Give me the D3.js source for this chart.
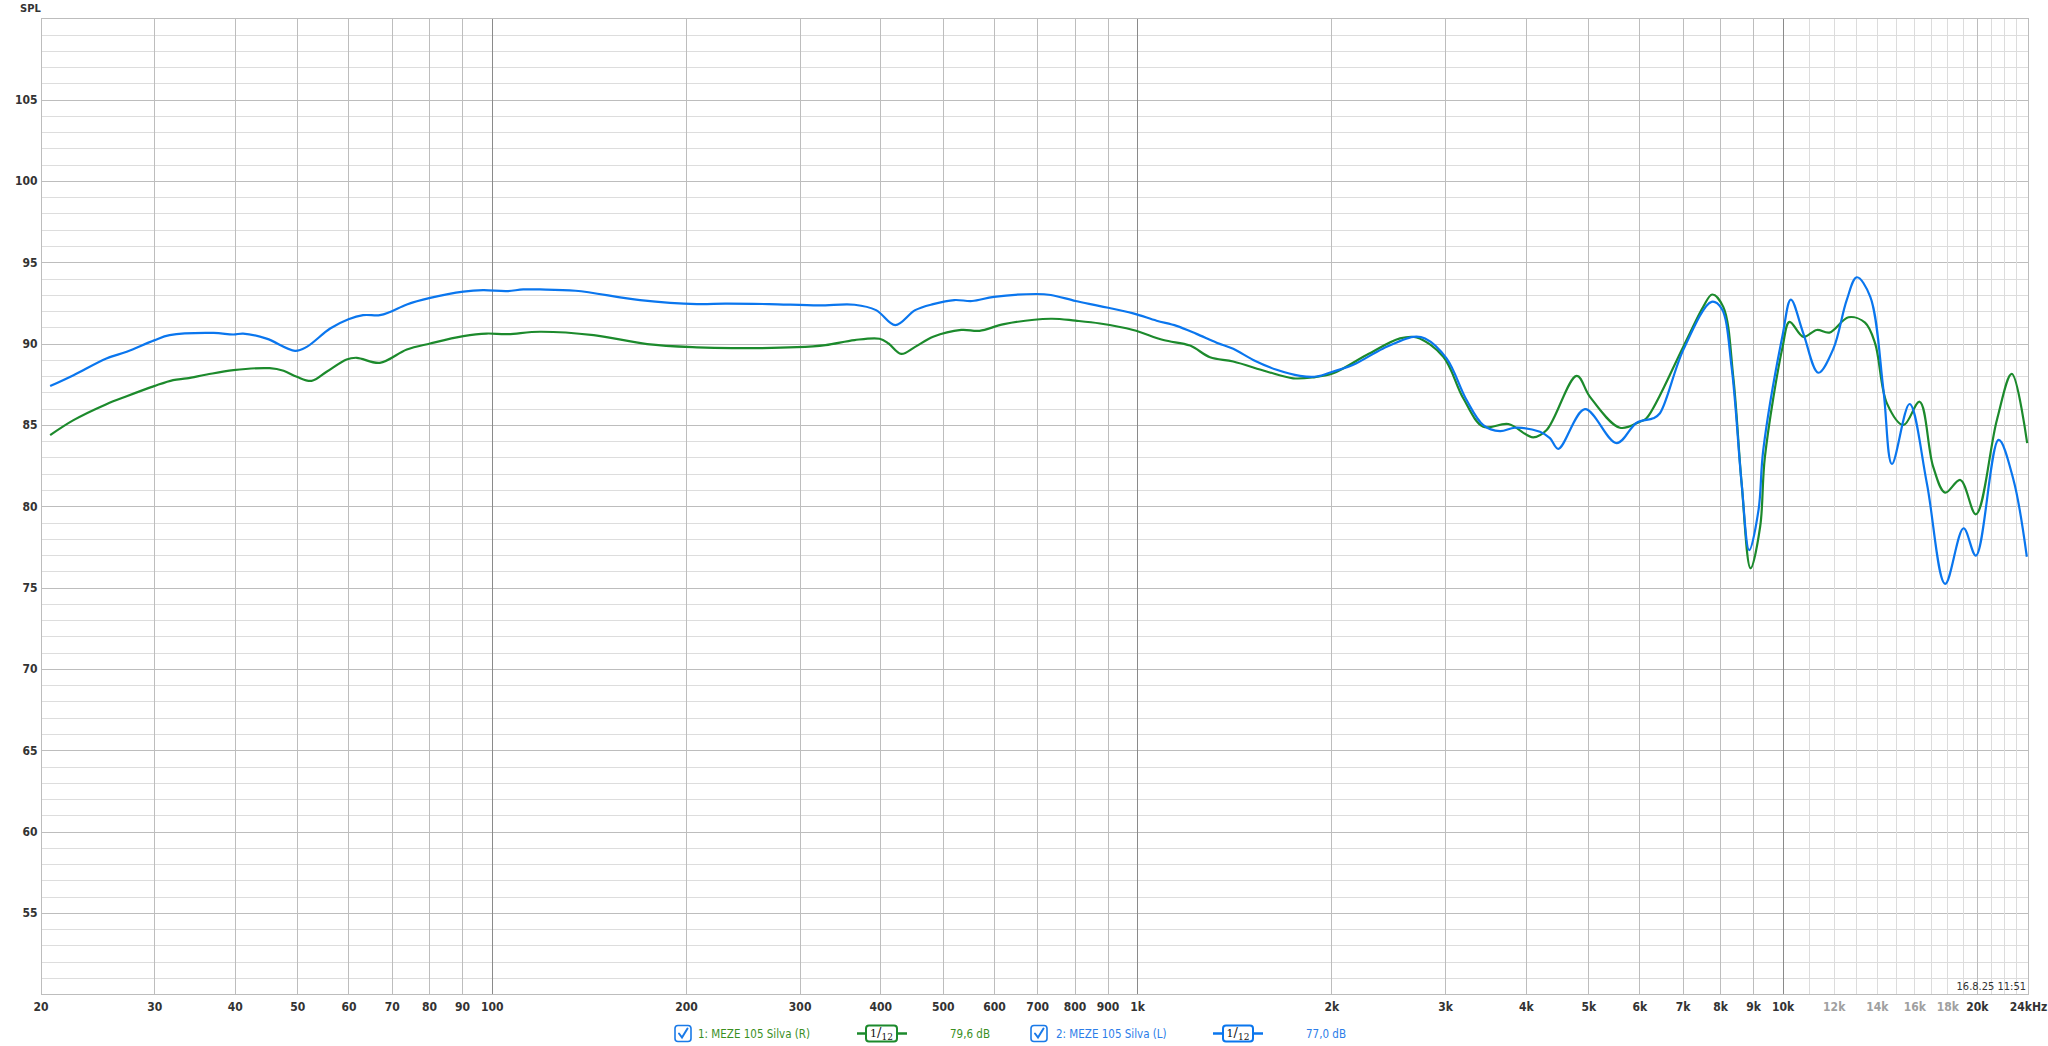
<!DOCTYPE html>
<html>
<head>
<meta charset="utf-8">
<script src="https://cdn.jsdelivr.net/npm/d3@7"></script>
<style>
  html, body { margin: 0; padding: 0; background: #ffffff; }
  svg { display: block; }
</style>
</head>
<body>
<svg id="chart" width="2048" height="1046"></svg>
<script>
// ---------------- DATA ----------------
const seriesNames = ["1: MEZE 105 Silva (R)", "2: MEZE 105 Silva (L)"];
const seriesLevels = ["79,6 dB", "77,0 dB"];
const smoothingLabel = ["1", "12"];

const freqR = [20.7,22.5,25.3,27.2,30.0,32.1,33.7,36.2,39.8,45.3,47.6,49.9,52.6,55.5,59.6,61.8,67.1,73.9,80.3,90.4,98.2,105.5,118.8,143.9,174.2,208,236,297,329,365,399,412,431,453,483,534,570,622,735,803,876,986,1098,1208,1297,1409,1587,1745,1874,2013,2267,2554,2711,2981,3201,3438,3759,4108,4310,4798,5030,5597,6010,6154,7015,7534,7780,8093,8386,8640,8921,9231,9389,10000,10250,10770,11300,11820,12650,13420,13910,14510,15400,16300,17110,17860,18850,19930,21480,22650,23930];
const splR = [84.38,85.3,86.28,86.77,87.39,87.76,87.86,88.1,88.37,88.49,88.33,87.96,87.71,88.27,89.03,89.13,88.82,89.64,90.01,90.46,90.62,90.58,90.73,90.52,89.97,89.77,89.72,89.78,89.91,90.22,90.3,90.01,89.37,89.8,90.42,90.84,90.79,91.2,91.53,91.41,91.24,90.84,90.22,89.88,89.16,88.9,88.29,87.87,87.93,88.18,89.3,90.32,90.38,89.19,86.64,84.89,85.06,84.24,84.69,88.02,86.73,84.83,85.2,85.41,89.8,92.26,93.02,92.26,87.96,81.42,76.19,78.75,83.04,89.8,91.34,90.42,90.84,90.68,91.62,91.29,90.02,86.33,85.0,86.43,82.44,80.84,81.62,79.51,85.31,88.14,83.88];

const freqL = [20.7,22.5,25.3,27.2,30.0,31.7,37.1,39.8,41.2,44.8,49.6,51.7,56.2,60.0,63.2,67.1,69.6,73.9,80.3,90.4,97.0,105.5,111.9,118.8,134.9,169.8,208,230,269,321,365,394,422,453,483,521,555,600,698,735,803,876,986,1072,1151,1236,1328,1409,1513,1645,1788,1897,2013,2162,2406,2677,2793,3016,3239,3438,3649,3850,4208,4361,4493,4941,5532,5942,6303,6456,7015,7763,8044,8336,8640,8878,9178,9333,10000,10300,10770,11360,11990,12570,13030,13670,14330,14770,15730,16730,17860,19070,19930,21610,22790,23900];
const splL = [87.39,88.06,89.09,89.5,90.2,90.52,90.66,90.56,90.62,90.31,89.56,89.8,90.93,91.5,91.75,91.75,91.95,92.41,92.81,93.2,93.29,93.23,93.33,93.33,93.25,92.68,92.43,92.46,92.43,92.35,92.39,92.06,91.14,92.06,92.43,92.68,92.62,92.88,93.05,92.99,92.62,92.31,91.86,91.41,91.09,90.6,90.06,89.68,89.0,88.39,88.02,87.98,88.29,88.7,89.7,90.42,90.32,89.09,86.53,84.99,84.62,84.83,84.58,84.19,83.53,85.97,83.88,85.14,85.41,85.72,89.6,92.57,92.16,88.57,81.42,77.3,79.78,83.45,90.52,92.71,90.62,88.21,89.7,92.68,94.08,92.89,87.15,82.6,86.29,81.42,75.23,78.65,76.97,84.08,81.62,76.9];

const yTickValues = [55,60,65,70,75,80,85,90,95,100,105];
const xTickValues = [20,30,40,50,60,70,80,90,100,200,300,400,500,600,700,800,900,1000,2000,3000,4000,5000,6000,7000,8000,9000,10000,12000,14000,16000,18000,20000,24000];
const xTickLabels = ["20","30","40","50","60","70","80","90","100","200","300","400","500","600","700","800","900","1k","2k","3k","4k","5k","6k","7k","8k","9k","10k","12k","14k","16k","18k","20k","24kHz"];
const xFaintLabels = [12000,14000,16000,18000];
const timestamp = "16.8.25 11:51";
const yTitle = "SPL";

// ---------------- LAYOUT ----------------
const colors = { R: "#1c8a2c", L: "#0a76ee", legendR: "#3a8f1f", legendL: "#2b7de9" };
const plotL = 40.5, plotR = 2028, plotT = 18.3, plotB = 994.3;

const svg = d3.select("#chart");
svg.append("rect").attr("width", 2048).attr("height", 1046).attr("fill", "#fff");

const x = d3.scaleLog().domain([20, 24000]).range([plotL, plotR]);
const y = d3.scaleLinear().domain([50, 110]).range([plotB, plotT]);

const grid = svg.append("g").attr("shape-rendering", "crispEdges");

// horizontal grid: every dB
d3.range(51, 110).forEach(v => {
  grid.append("line")
    .attr("x1", plotL).attr("x2", plotR)
    .attr("y1", Math.round(y(v)) + 0.5).attr("y2", Math.round(y(v)) + 0.5)
    .attr("stroke", v % 5 === 0 ? "#bdbdbd" : "#dddddd").attr("stroke-width", 1);
});

// vertical grid
const vLines = [];
d3.range(30, 100, 10).forEach(f => vLines.push(f));
d3.range(100, 1000, 100).forEach(f => vLines.push(f));
d3.range(1000, 10000, 1000).forEach(f => vLines.push(f));
d3.range(10000, 24000, 1000).forEach(f => vLines.push(f));
vLines.forEach(f => {
  let c = "#bdbdbd";
  if (f === 100 || f === 1000 || f === 10000) c = "#8a8a8a";
  else if (f > 10000 && f !== 20000) c = "#dcdcdc";
  grid.append("line")
    .attr("x1", Math.round(x(f)) + 0.5).attr("x2", Math.round(x(f)) + 0.5)
    .attr("y1", plotT).attr("y2", plotB)
    .attr("stroke", c).attr("stroke-width", 1);
});

// border
grid.append("rect")
  .attr("x", Math.round(plotL) + 0.5).attr("y", Math.round(plotT) + 0.5)
  .attr("width", Math.round(plotR) - Math.round(plotL)).attr("height", Math.round(plotB) - Math.round(plotT))
  .attr("fill", "none").attr("stroke", "#bdbdbd");

// axes (labels only, via d3 axes)
const axisFont = "'Liberation Sans Narrow','DejaVu Sans Condensed',sans-serif";
const yAxis = d3.axisLeft(y).tickValues(yTickValues).tickSize(0).tickPadding(3).tickFormat(d3.format("d"));
const gy = svg.append("g").attr("transform", `translate(${plotL},0)`).call(yAxis);
gy.select(".domain").remove();
gy.selectAll("text").attr("font-family", axisFont).attr("font-size", 12).attr("font-weight", "bold").attr("fill", "#333");

const xAxis = d3.axisBottom(x).tickValues(xTickValues).tickSize(0).tickPadding(8)
  .tickFormat((d, i) => xTickLabels[i]);
const gx = svg.append("g").attr("transform", `translate(0,${plotB})`).call(xAxis);
gx.select(".domain").remove();
gx.selectAll("text").attr("font-family", axisFont).attr("font-size", 12).attr("font-weight", "bold")
  .attr("fill", d => xFaintLabels.includes(d) ? "#a0a0a0" : "#333");

svg.append("text").attr("x", 20).attr("y", 12).text(yTitle)
  .attr("font-family", axisFont).attr("font-size", 11).attr("font-weight", "bold").attr("fill", "#333");

svg.append("text").attr("x", 2026).attr("y", 990).attr("text-anchor", "end").text(timestamp)
  .attr("font-family", axisFont).attr("font-size", 11).attr("fill", "#333");

// curves
const line = d3.line().x(d => x(d[0])).y(d => y(d[1])).curve(d3.curveCatmullRom.alpha(0.5));
const plot = svg.append("g");
plot.append("path").datum(freqR.map((f, i) => [f, splR[i]]))
  .attr("d", line).attr("fill", "none").attr("stroke", colors.R).attr("stroke-width", 2.2);
plot.append("path").datum(freqL.map((f, i) => [f, splL[i]]))
  .attr("d", line).attr("fill", "none").attr("stroke", colors.L).attr("stroke-width", 2.2);

// legend
const legendFont = "'DejaVu Sans Condensed','DejaVu Sans',sans-serif";
const legendSize = 11.5;
const ly = 1033.5;
function checkbox(cx) {
  const g = svg.append("g");
  g.append("rect").attr("x", cx - 8).attr("y", ly - 8).attr("width", 16).attr("height", 16).attr("rx", 3)
    .attr("fill", "#fff").attr("stroke", "#1a7ae8").attr("stroke-width", 1.6);
  g.append("path").attr("d", `M${cx - 4},${ly} L${cx - 1},${ly + 4} L${cx + 4.5},${ly - 5}`)
    .attr("fill", "none").attr("stroke", "#1a7ae8").attr("stroke-width", 2).attr("stroke-linecap", "round");
}
function filterIcon(x1, bx1, bx2, x2, col) {
  const g = svg.append("g");
  g.append("line").attr("x1", x1).attr("x2", x2).attr("y1", ly).attr("y2", ly).attr("stroke", col).attr("stroke-width", 2.5);
  g.append("rect").attr("x", bx1).attr("y", ly - 8).attr("width", bx2 - bx1).attr("height", 16).attr("rx", 3)
    .attr("fill", "#fff").attr("stroke", col).attr("stroke-width", 2);
  const t = g.append("text").attr("x", (bx1 + bx2) / 2).attr("y", ly + 4).attr("text-anchor", "middle")
    .attr("font-family", "'DejaVu Serif',serif").attr("fill", "#111");
  t.append("tspan").attr("font-size", 11).attr("dy", -1).text(smoothingLabel[0]);
  t.append("tspan").attr("font-size", 13).text("/");
  t.append("tspan").attr("font-size", 9).attr("dy", 3).text(smoothingLabel[1]);
}
checkbox(683);
svg.append("text").attr("x", 698).attr("y", ly + 4).text(seriesNames[0])
  .attr("font-family", legendFont).attr("font-size", legendSize).attr("fill", colors.legendR);
filterIcon(857, 866, 897, 907, colors.R);
svg.append("text").attr("x", 950).attr("y", ly + 4).text(seriesLevels[0])
  .attr("font-family", legendFont).attr("font-size", legendSize).attr("fill", colors.legendR);

checkbox(1039);
svg.append("text").attr("x", 1056).attr("y", ly + 4).text(seriesNames[1])
  .attr("font-family", legendFont).attr("font-size", legendSize).attr("fill", colors.legendL);
filterIcon(1213, 1223, 1253, 1263, colors.L);
svg.append("text").attr("x", 1306).attr("y", ly + 4).text(seriesLevels[1])
  .attr("font-family", legendFont).attr("font-size", legendSize).attr("fill", colors.legendL);
</script>
</body>
</html>
